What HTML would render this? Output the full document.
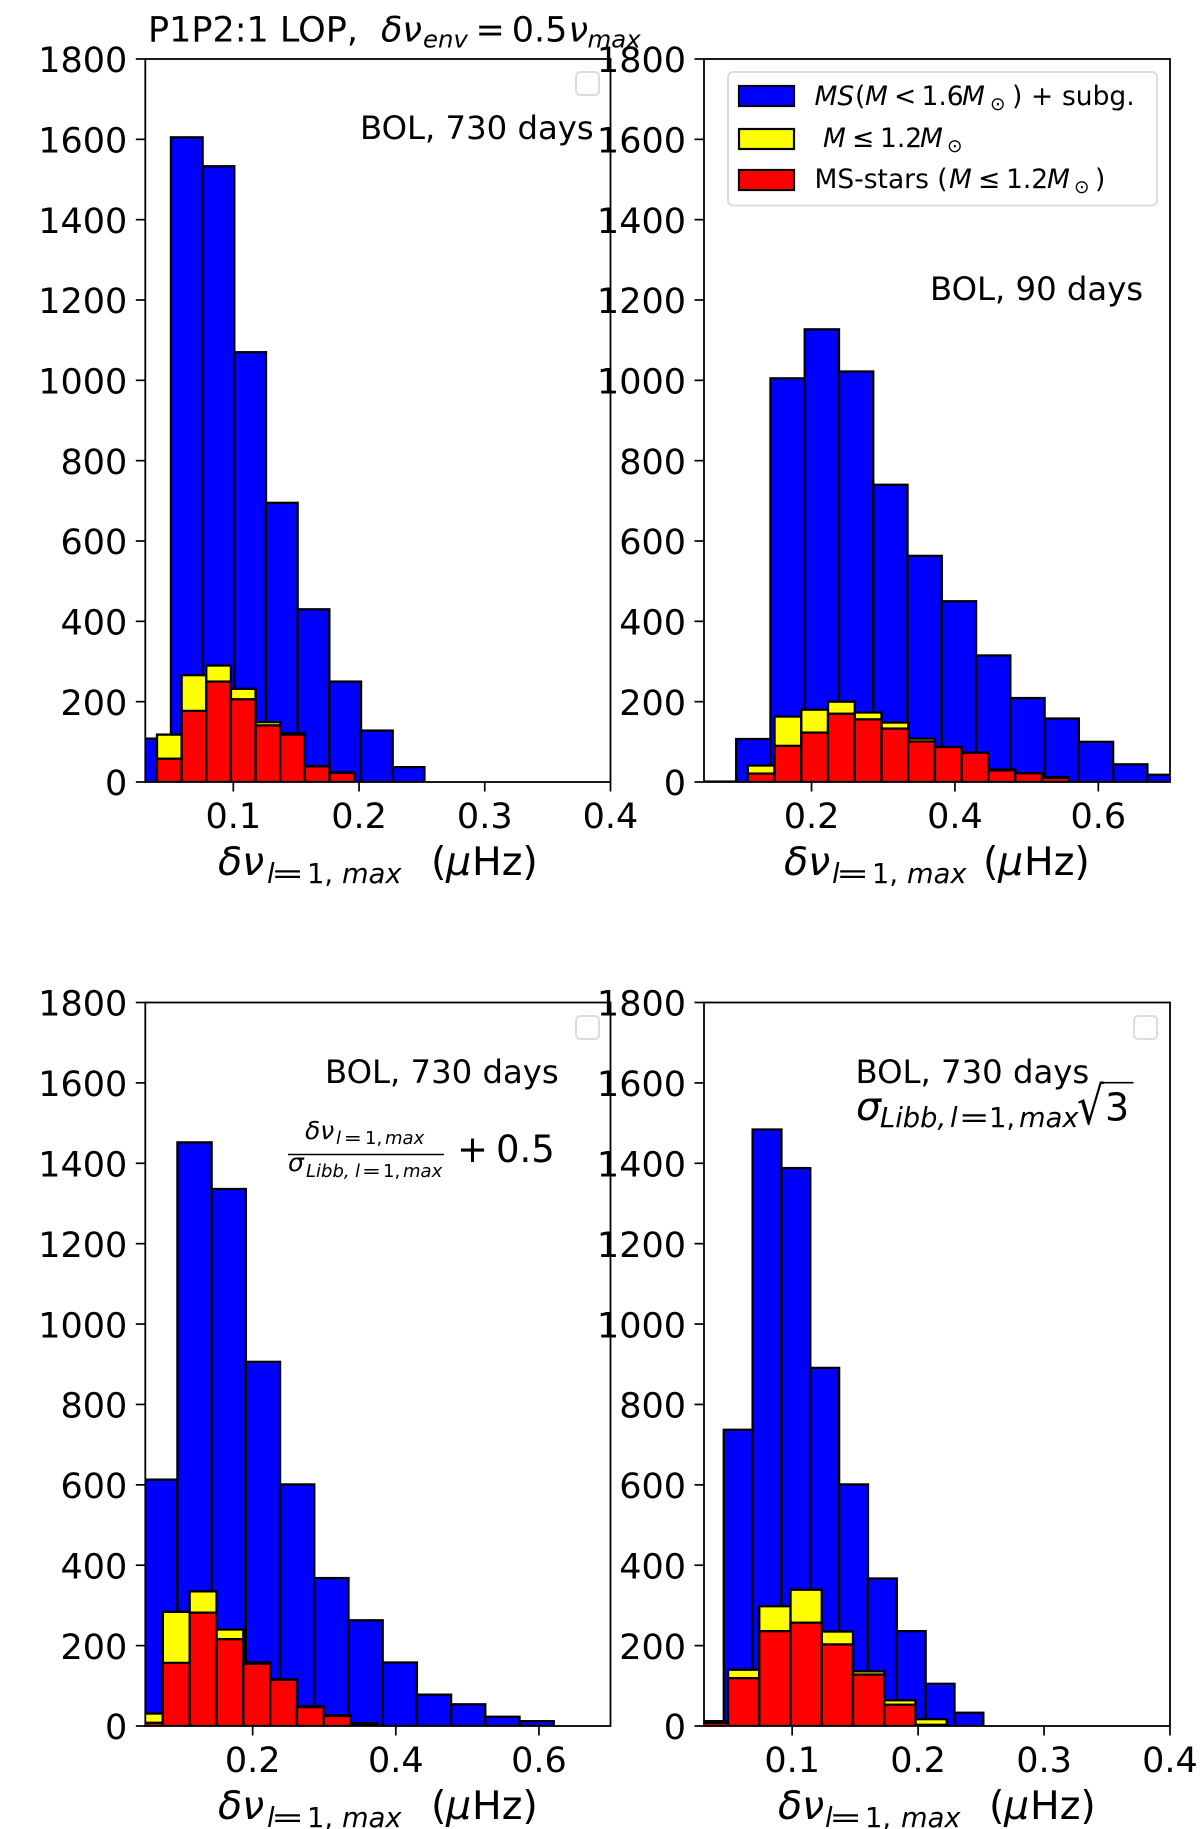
<!DOCTYPE html>
<html lang="en">
<head>
<meta charset="utf-8">
<title>P1P2:1 LOP histograms</title>
<style>
html,body{margin:0;padding:0;background:#fff;}
#fig{display:block;width:1200px;height:1829px;}
text{font-family:"DejaVu Sans","Liberation Sans",sans-serif;fill:#000;}
.i{font-style:italic;}
</style>
</head>
<body>
<svg id="fig" xmlns="http://www.w3.org/2000/svg" width="1200" height="1829" viewBox="0 0 1200 1829">
  <rect x="0" y="0" width="1200" height="1829" fill="#fff"></rect>
  <g id="panels"></g>

  <text y="41.7" font-size="35"><tspan x="148">P1P2:1 LOP,</tspan><tspan class="i" x="381">δν</tspan><tspan class="i" x="423" y="47.7" font-size="24.4">env</tspan><tspan x="475.5" y="41.7">=</tspan><tspan x="511.7">0.5</tspan><tspan class="i" x="568.5">ν</tspan><tspan class="i" x="587.5" y="47.7" font-size="24.4">max</tspan></text>

  <text x="360" y="139" font-size="32.3">BOL, 730 days</text>
  <text x="930" y="300" font-size="32.3">BOL, 90 days</text>
  <text x="325" y="1083" font-size="32.3">BOL, 730 days</text>
  <text x="855.5" y="1083" font-size="32.3">BOL, 730 days</text>

  <rect x="576" y="72" width="23" height="23" rx="4" fill="#fff" fill-opacity="0.8" stroke="#dcdcdc" stroke-width="2"></rect>
  <rect x="576" y="1016" width="23" height="23" rx="4" fill="#fff" fill-opacity="0.8" stroke="#dcdcdc" stroke-width="2"></rect>
  <rect x="1134" y="1016" width="23" height="23" rx="4" fill="#fff" fill-opacity="0.8" stroke="#dcdcdc" stroke-width="2"></rect>

  <g>
    <rect x="728" y="72" width="429" height="133.5" rx="5" fill="#fff" fill-opacity="0.8" stroke="#dcdcdc" stroke-width="2"></rect>
    <rect x="739" y="86" width="55" height="20" fill="#0000ff" stroke="#000" stroke-width="2.2"></rect>
    <rect x="739" y="129" width="55" height="20" fill="#ffff00" stroke="#000" stroke-width="2.2"></rect>
    <rect x="739" y="170" width="55" height="20" fill="#ff0000" stroke="#000" stroke-width="2.2"></rect>
    <text y="105" font-size="26.5"><tspan class="i" x="814.5">MS</tspan><tspan x="855">(</tspan><tspan class="i" x="865">M</tspan><tspan x="894">&lt;</tspan><tspan x="921.5">1.6</tspan><tspan class="i" x="962">M</tspan><tspan x="990" y="110" font-size="18.5">⊙</tspan><tspan x="1012" y="105">)</tspan><tspan x="1031">+</tspan><tspan x="1062">subg.</tspan></text>
    <text y="147" font-size="26.5"><tspan class="i" x="823">M</tspan><tspan x="852">≤</tspan><tspan x="880">1.2</tspan><tspan class="i" x="920">M</tspan><tspan x="947" y="152" font-size="18.5">⊙</tspan></text>
    <text y="188" font-size="26.5"><tspan x="814.5">MS-stars (</tspan><tspan class="i" x="949">M</tspan><tspan x="978">≤</tspan><tspan x="1006">1.2</tspan><tspan class="i" x="1047">M</tspan><tspan x="1074" y="193" font-size="18.5">⊙</tspan><tspan x="1095" y="188">)</tspan></text>
  </g>

  <text y="875" font-size="39.5"><tspan class="i" x="218">δν</tspan><tspan class="i" x="267" y="883" font-size="27.3">l</tspan><tspan x="307" y="883" font-size="27.3">1,</tspan><tspan class="i" x="342" y="883" font-size="27.3">max</tspan><tspan x="431" y="875">(</tspan><tspan class="i" x="446" y="875">μ</tspan><tspan x="472" y="875">Hz)</tspan></text>
  <text transform="translate(271,883) scale(1.45,1)" font-size="27.3">=</text>

  <text y="875" font-size="39.5"><tspan class="i" x="784">δν</tspan><tspan class="i" x="832" y="883" font-size="27.3">l</tspan><tspan x="872" y="883" font-size="27.3">1,</tspan><tspan class="i" x="907" y="883" font-size="27.3">max</tspan><tspan x="983" y="875">(</tspan><tspan class="i" x="998" y="875">μ</tspan><tspan x="1024" y="875">Hz)</tspan></text>
  <text transform="translate(836,883) scale(1.45,1)" font-size="27.3">=</text>

  <text y="1819" font-size="39.5"><tspan class="i" x="218">δν</tspan><tspan class="i" x="267" y="1827" font-size="27.3">l</tspan><tspan x="307" y="1827" font-size="27.3">1,</tspan><tspan class="i" x="342" y="1827" font-size="27.3">max</tspan><tspan x="431" y="1819">(</tspan><tspan class="i" x="446" y="1819">μ</tspan><tspan x="472" y="1819">Hz)</tspan></text>
  <text transform="translate(271,1827) scale(1.45,1)" font-size="27.3">=</text>

  <text y="1819" font-size="39.5"><tspan class="i" x="778">δν</tspan><tspan class="i" x="825" y="1827" font-size="27.3">l</tspan><tspan x="865" y="1827" font-size="27.3">1,</tspan><tspan class="i" x="901" y="1827" font-size="27.3">max</tspan><tspan x="989" y="1819">(</tspan><tspan class="i" x="1004" y="1819">μ</tspan><tspan x="1030" y="1819">Hz)</tspan></text>
  <text transform="translate(829,1827) scale(1.45,1)" font-size="27.3">=</text>

  <g>
    <text y="1139" font-size="25"><tspan class="i" x="305">δν</tspan><tspan class="i" x="336" y="1144" font-size="18">l</tspan><tspan x="365" y="1144" font-size="18">1,</tspan><tspan class="i" x="385" y="1144" font-size="18">max</tspan></text>
    <text transform="translate(343.7,1144) scale(1.2,1)" font-size="18">=</text>
    <line x1="288" y1="1154.5" x2="444" y2="1154.5" stroke="#000" stroke-width="1.6"></line>
    <text y="1171" font-size="25"><tspan class="i" x="288">σ</tspan><tspan class="i" x="306" y="1177" font-size="18">Libb,</tspan><tspan class="i" x="355" y="1177" font-size="18">l</tspan><tspan x="383" y="1177" font-size="18">1,</tspan><tspan class="i" x="403" y="1177" font-size="18">max</tspan></text>
    <text transform="translate(362,1177) scale(1.25,1)" font-size="18">=</text>
    <text y="1162" font-size="37"><tspan x="457">+</tspan><tspan x="496">0.5</tspan></text>
  </g>

  <g>
    <text y="1120" font-size="39.5"><tspan class="i" x="856">σ</tspan><tspan class="i" x="880" y="1127" font-size="27.3">Libb,</tspan><tspan class="i" x="950" y="1127" font-size="27.3">l</tspan><tspan x="989" y="1127" font-size="27.3">1,</tspan><tspan class="i" x="1019" y="1127" font-size="27.3">max</tspan></text>
    <text transform="translate(958.8,1127) scale(1.35,1)" font-size="27.3">=</text>
    <text transform="translate(1077,1124) scale(1,1.25)" font-size="42">√</text>
    <line x1="1100" y1="1082.7" x2="1133.5" y2="1082.7" stroke="#000" stroke-width="1.6"></line>
    <text x="1105" y="1120.7" font-size="38">3</text>
  </g>
</svg>

<script>
var yTicks = [0, 200, 400, 600, 800, 1000, 1200, 1400, 1600, 1800];
var xTicksWide = ['0.2', '0.4', '0.6'];
var xTicksNarrow = ['0.1', '0.2', '0.3', '0.4'];

var p1BlueEdges = [0.0252, 0.0504, 0.0756, 0.1008, 0.126, 0.1512, 0.1764, 0.2016, 0.2268, 0.252];
var p1BlueCounts = [108, 1605, 1533, 1070, 695, 430, 250, 128, 37];
var p1LowEdges = [0.0393, 0.0589, 0.0785, 0.0981, 0.1177, 0.1373, 0.1569, 0.1765, 0.1961];
var p1YellowCounts = [118, 266, 290, 232, 149, 121, 40, 24];
var p1RedCounts = [58, 177, 250, 206, 141, 118, 39, 23];

var p2BlueEdges = [0.0471, 0.0949, 0.1427, 0.1905, 0.2383, 0.2861, 0.3339, 0.3817, 0.4295, 0.4773, 0.5251, 0.5729, 0.6207, 0.6685, 0.7163];
var p2BlueCounts = [1, 107, 1005, 1127, 1022, 740, 563, 450, 315, 209, 158, 100, 44, 18];
var p2LowEdges = [0.1111, 0.1484, 0.1857, 0.223, 0.2603, 0.2976, 0.3349, 0.3722, 0.4095, 0.4468, 0.4841, 0.5214, 0.5587];
var p2YellowCounts = [41, 163, 180, 200, 173, 148, 108, 87, 73, 31, 22, 12];
var p2RedCounts = [21, 90, 123, 170, 156, 133, 101, 87, 73, 29, 22, 10];

var p3BlueEdges = [0.0471, 0.0949, 0.1427, 0.1905, 0.2383, 0.2861, 0.3339, 0.3817, 0.4295, 0.4773, 0.5251, 0.5729, 0.6207];
var p3BlueCounts = [613, 1452, 1336, 906, 601, 368, 263, 158, 78, 54, 23, 12];
var p3LowEdges = [0.037, 0.0745, 0.112, 0.1495, 0.187, 0.2245, 0.262, 0.2995, 0.337, 0.3745];
var p3YellowCounts = [31, 284, 335, 240, 158, 116, 49, 27, 7];
var p3RedCounts = [8, 157, 282, 216, 155, 115, 47, 25, 5];

var p4BlueEdges = [0.0457, 0.0686, 0.0915, 0.1144, 0.1373, 0.1602, 0.1831, 0.206, 0.2289, 0.2518];
var p4BlueCounts = [737, 1484, 1388, 891, 601, 367, 236, 105, 33];
var p4LowEdges = [0.0243, 0.0491, 0.0739, 0.0987, 0.1235, 0.1483, 0.1731, 0.1979, 0.2227];
var p4YellowCounts = [12, 140, 298, 339, 235, 136, 64, 17];
var p4RedCounts = [8, 119, 236, 257, 203, 128, 53, 3];

var SVGNS = 'http://www.w3.org/2000/svg';
var root = document.getElementById('panels');

function xAxis(frame) {
  return function (v) {
    return frame.left + (v - frame.xMin) / (frame.xMax - frame.xMin) * (frame.right - frame.left);
  };
}
function yAxis(frame) {
  return function (v) {
    return frame.bottom - v / 1800 * (frame.bottom - frame.top);
  };
}

function drawSeries(group, frame, seriesName, color, edges, counts) {
  var sx = xAxis(frame);
  var sy = yAxis(frame);
  for (var i = 0; i < counts.length; i++) {
    var el = document.createElementNS(SVGNS, 'rect');
    
    
    el.setAttribute('x', sx(edges[i]));
    el.setAttribute('y', sy(counts[i]));
    el.setAttribute('width', sx(edges[i + 1]) - sx(edges[i]));
    el.setAttribute('height', sy(0) - sy(counts[i]));
    el.setAttribute('fill', color);
    el.setAttribute('stroke', '#000');
    el.setAttribute('stroke-width', '2.3');
    group.appendChild(el);
  }
}

function drawAxes(group, frame, xLabels) {
  var sx = xAxis(frame);
  var sy = yAxis(frame);
  var tickLen = 9.5;
  var i, el, lab;
  for (i = 0; i < yTicks.length; i++) {
    el = document.createElementNS(SVGNS, 'line');
    
    
    el.setAttribute('x1', frame.left - tickLen);
    el.setAttribute('x2', frame.left);
    el.setAttribute('y1', sy(yTicks[i]));
    el.setAttribute('y2', sy(yTicks[i]));
    el.setAttribute('stroke', '#000');
    el.setAttribute('stroke-width', '1.7');
    group.appendChild(el);

    lab = document.createElementNS(SVGNS, 'text');
    
    
    lab.setAttribute('x', frame.left - 18);
    lab.setAttribute('y', sy(yTicks[i]) + 13.2);
    lab.setAttribute('text-anchor', 'end');
    lab.setAttribute('font-size', '35');
    lab.textContent = String(yTicks[i]);
    group.appendChild(lab);
  }
  for (i = 0; i < xLabels.length; i++) {
    el = document.createElementNS(SVGNS, 'line');
    
    
    el.setAttribute('x1', sx(parseFloat(xLabels[i])));
    el.setAttribute('x2', sx(parseFloat(xLabels[i])));
    el.setAttribute('y1', frame.bottom);
    el.setAttribute('y2', frame.bottom + tickLen);
    el.setAttribute('stroke', '#000');
    el.setAttribute('stroke-width', '1.7');
    group.appendChild(el);

    lab = document.createElementNS(SVGNS, 'text');
    
    
    lab.setAttribute('x', sx(parseFloat(xLabels[i])));
    lab.setAttribute('y', frame.bottom + 46);
    lab.setAttribute('text-anchor', 'middle');
    lab.setAttribute('font-size', '35');
    lab.textContent = xLabels[i];
    group.appendChild(lab);
  }
  var spine = document.createElementNS(SVGNS, 'rect');
  
  
  spine.setAttribute('x', frame.left);
  spine.setAttribute('y', frame.top);
  spine.setAttribute('width', frame.right - frame.left);
  spine.setAttribute('height', frame.bottom - frame.top);
  spine.setAttribute('fill', 'none');
  spine.setAttribute('stroke', '#000');
  spine.setAttribute('stroke-width', '1.8');
  group.appendChild(spine);
}

function drawPanel(frame, blueEdges, blueCounts, lowEdges, yellowCounts, redCounts, xLabels) {
  var group = document.createElementNS(SVGNS, 'g');
  
  
  root.appendChild(group);

  var clip = document.createElementNS(SVGNS, 'clipPath');
  clip.setAttribute('id', 'clip-' + frame.name);
  var clipRect = document.createElementNS(SVGNS, 'rect');
  clipRect.setAttribute('x', frame.left);
  clipRect.setAttribute('y', frame.top);
  clipRect.setAttribute('width', frame.right - frame.left);
  clipRect.setAttribute('height', frame.bottom - frame.top);
  clip.appendChild(clipRect);
  group.appendChild(clip);

  var bars = document.createElementNS(SVGNS, 'g');
  
  
  bars.setAttribute('clip-path', 'url(#clip-' + frame.name + ')');
  group.appendChild(bars);

  drawSeries(bars, frame, 'blue', '#0000ff', blueEdges, blueCounts);
  drawSeries(bars, frame, 'yellow', '#ffff00', lowEdges, yellowCounts);
  drawSeries(bars, frame, 'red', '#ff0000', lowEdges, redCounts);
  drawAxes(group, frame, xLabels);
}

drawPanel({name: 'panel-top-left', left: 145.3, right: 610.5, top: 59, bottom: 782, xMin: 0.03, xMax: 0.4},
  p1BlueEdges, p1BlueCounts, p1LowEdges, p1YellowCounts, p1RedCounts, xTicksNarrow);
drawPanel({name: 'panel-top-right', left: 704, right: 1170, top: 59, bottom: 782, xMin: 0.05, xMax: 0.7},
  p2BlueEdges, p2BlueCounts, p2LowEdges, p2YellowCounts, p2RedCounts, xTicksWide);
drawPanel({name: 'panel-bottom-left', left: 145.3, right: 610.5, top: 1002.5, bottom: 1726, xMin: 0.05, xMax: 0.7},
  p3BlueEdges, p3BlueCounts, p3LowEdges, p3YellowCounts, p3RedCounts, xTicksWide);
drawPanel({name: 'panel-bottom-right', left: 704, right: 1170, top: 1002.5, bottom: 1726, xMin: 0.03, xMax: 0.4},
  p4BlueEdges, p4BlueCounts, p4LowEdges, p4YellowCounts, p4RedCounts, xTicksNarrow);
</script>
</body>
</html>
